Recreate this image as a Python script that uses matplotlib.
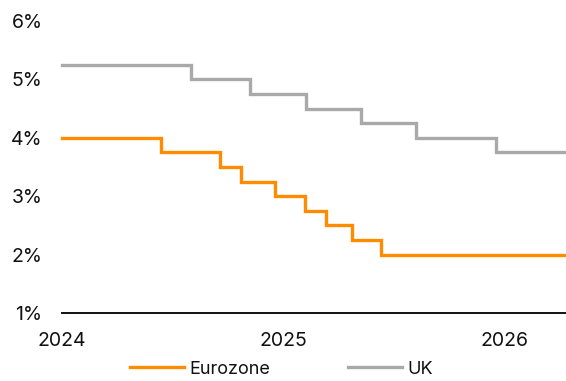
import matplotlib
matplotlib.use("Agg")
import matplotlib.pyplot as plt
from datetime import datetime

plt.rcParams['font.family'] = ['Inter', 'DejaVu Sans']

# Policy rate step changes (date, rate %)
ez_dates = ["2024-01-01", "2024-06-12", "2024-09-18", "2024-10-23", "2024-12-18",
            "2025-02-05", "2025-03-12", "2025-04-23", "2025-06-11", "2026-04-12"]
ez_rates = [4.00, 3.75, 3.50, 3.25, 3.00, 2.75, 2.50, 2.25, 2.00, 2.00]

uk_dates = ["2024-01-01", "2024-08-01", "2024-11-07", "2025-02-06", "2025-05-08",
            "2025-08-07", "2025-12-18", "2026-04-12"]
uk_rates = [5.25, 5.00, 4.75, 4.50, 4.25, 4.00, 3.75, 3.75]

year_ticks = ["2024", "2025", "2026"]
y_ticks = [1, 2, 3, 4, 5, 6]

ez_x = [datetime.strptime(d, "%Y-%m-%d") for d in ez_dates]
uk_x = [datetime.strptime(d, "%Y-%m-%d") for d in uk_dates]

fig = plt.figure(figsize=(5.66, 3.81), dpi=100)
ax = fig.add_axes([62/566, 1-313/381, 1-62/566, (313-21)/381])

ax.step(ez_x, ez_rates, where="post", color="#FF8C00", lw=2.4, label="Eurozone",
        solid_joinstyle="miter", clip_on=False)
ax.step(uk_x, uk_rates, where="post", color="#A9A9A9", lw=2.4, label="UK",
        solid_joinstyle="miter", clip_on=False)

ax.set_xlim(ez_x[0], ez_x[-1])
ax.set_ylim(1, 6)
ax.set_yticks(y_ticks)
ax.set_yticklabels([f"{v}%" for v in y_ticks])
ax.set_xticks([datetime(int(y), 1, 1) for y in year_ticks])
ax.set_xticklabels(year_ticks)

for s in ["top", "right", "left"]:
    ax.spines[s].set_visible(False)
ax.spines["bottom"].set_color("#111111")
ax.spines["bottom"].set_linewidth(1.4)
ax.tick_params(axis="both", length=0, labelsize=14, colors="#111111")
ax.tick_params(axis="y", pad=14)
ax.tick_params(axis="x", pad=14)

leg = fig.legend(loc="center", bbox_to_anchor=(0.497, 1-369/381), ncol=2, frameon=False,
                 fontsize=13, handlelength=3.0, handletextpad=0.3, columnspacing=4.3)
for t in leg.get_texts():
    t.set_color("#111111")

fig.savefig("out.png", dpi=100)
